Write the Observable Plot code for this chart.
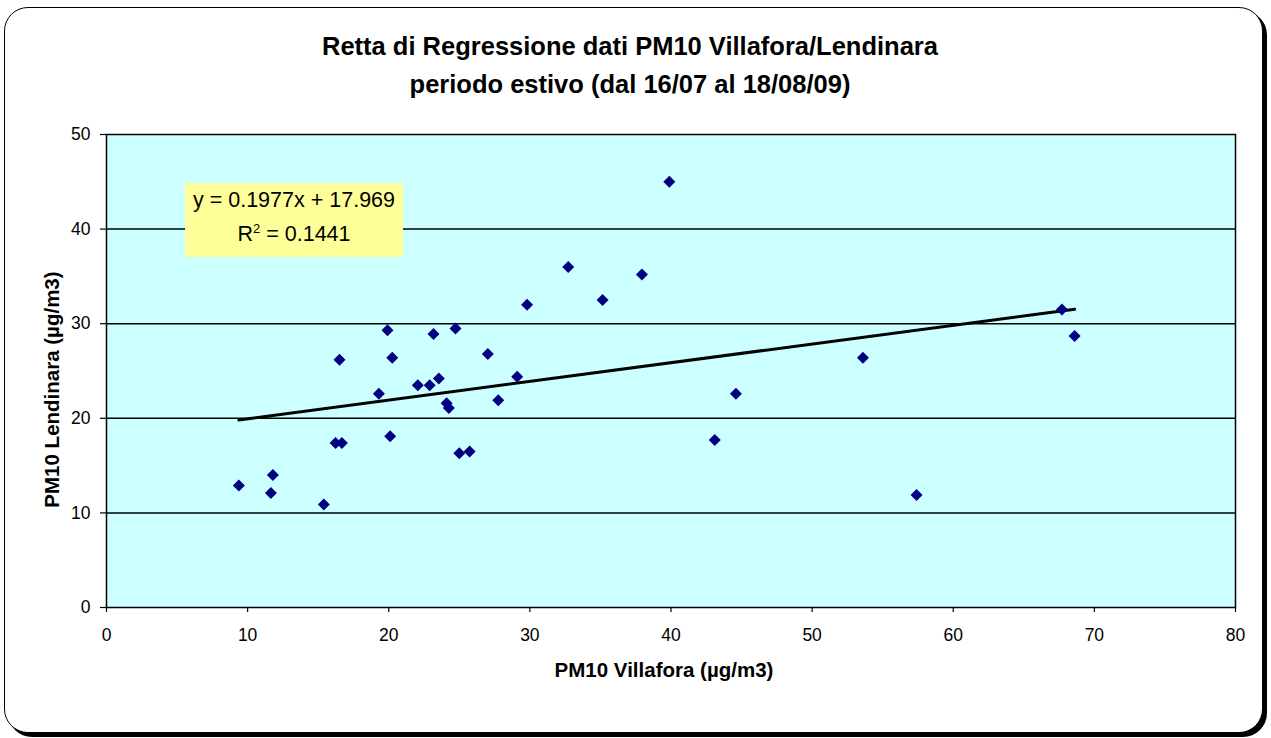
<!DOCTYPE html>
<html>
<head>
<meta charset="utf-8">
<script src="https://cdn.jsdelivr.net/npm/d3@7"></script>
<script src="https://cdn.jsdelivr.net/npm/@observablehq/plot@0.6"></script>
<style>
  html, body { margin: 0; padding: 0; background: #fff; }
  #wrap { position: relative; width: 1271px; height: 738px; overflow: hidden; font-family: "Liberation Sans", Arial, sans-serif; color: #000; }
  #frame { position: absolute; left: 4px; top: 7px; width: 1257px; height: 724px; border: 1.5px solid #000; border-radius: 24px; box-shadow: 4px 4px 0 #000; background: #fff; }
  #chart { position: absolute; left: 0; top: 0; }
  #chart svg text { font-size: 17.5px !important; font-family: "Liberation Sans", Arial, sans-serif; fill: #000; }
  .title { position: absolute; left: 130px; width: 1000px; text-align: center; font-weight: bold; font-size: 25.5px; line-height: 28px; white-space: nowrap; }
  #xlabel { position: absolute; left: 364px; width: 600px; top: 658px; text-align: center; font-weight: bold; font-size: 20.5px; line-height: 23px; }
  #ylabel { position: absolute; left: -149px; top: 378px; width: 400px; height: 23px; line-height: 23px; text-align: center; font-weight: bold; font-size: 20.5px; transform: rotate(-90deg); white-space: nowrap; }
  #eq { position: absolute; left: 185px; top: 183px; width: 218px; height: 74px; background: #FFFF99; }
  #eq div { position: absolute; left: 0; width: 218px; text-align: center; font-size: 21.5px; line-height: 24px; white-space: nowrap; }
  sup { font-size: 13px; vertical-align: 8px; line-height: 0; }
</style>
</head>
<body>
<div id="wrap">
  <div id="frame"></div>
  <div id="chart"></div>
  <div class="title" id="t1" style="top:32px"></div>
  <div class="title" id="t2" style="top:70px"></div>
  <div id="xlabel"></div>
  <div id="ylabel"></div>
  <div id="eq"><div id="eq1" style="top:5px"></div><div id="eq2" style="top:39px"></div></div>
</div>
<script>
// ---- Data ----
const villafora = [9.38, 11.79, 11.65, 15.4, 16.51, 16.23, 16.68, 19.91, 20.25, 19.3, 20.1,
  22.06, 22.9, 23.55, 23.17, 24.73, 24.1, 24.26, 25.0, 25.73, 27.02, 27.76, 29.1, 29.8,
  39.88, 32.72, 37.94, 35.15, 44.6, 43.1, 53.6, 57.4, 67.7, 68.6];
const lendinara = [12.9, 14.0, 12.1, 10.9, 26.2, 17.4, 17.4, 29.3, 26.4, 22.6, 18.1,
  23.5, 23.5, 24.2, 28.9, 29.5, 21.6, 21.1, 16.3, 16.5, 26.8, 21.9, 24.4, 32.0,
  45.0, 36.0, 35.2, 32.5, 22.6, 17.7, 26.4, 11.9, 31.5, 28.7];
const slope = 0.1977;
const intercept = 17.969;
const rSquared = 0.1441;
const xTicks = [0, 10, 20, 30, 40, 50, 60, 70, 80];
const yTicks = [0, 10, 20, 30, 40, 50];
const gridValues = [10, 20, 30, 40];
const titleLines = ["Retta di Regressione dati PM10 Villafora/Lendinara", "periodo estivo (dal 16/07 al 18/08/09)"];
const xLabel = "PM10 Villafora (µg/m3)";
const yLabel = "PM10 Lendinara (µg/m3)";

// ---- Derived tables ----
const points = villafora.map((x, i) => ({x, y: lendinara[i]}));
const xExtent = d3.extent(villafora);
const trend = xExtent.map(x => ({x, y: slope * x + intercept}));

const chart = Plot.plot({
  width: 1271,
  height: 738,
  marginLeft: 106,
  marginRight: 36,
  marginTop: 134,
  marginBottom: 131,
  style: {background: "transparent", fontFamily: "'Liberation Sans', Arial, sans-serif", fontSize: "17.5px", color: "#000", overflow: "visible"},
  x: {domain: [0, 80]},
  y: {domain: [0, 50]},
  marks: [
    Plot.frame({fill: "#CCFFFF", stroke: null}),
    Plot.ruleY(gridValues, {stroke: "#000", strokeWidth: 1.5}),
    Plot.frame({stroke: "#000", strokeWidth: 1.5}),
    Plot.axisX({ticks: xTicks, tickSize: 5, tickPadding: 16, fontSize: 17.5, label: null, tickFormat: d => String(d), stroke: "#000", strokeWidth: 1.2}),
    Plot.axisY({ticks: yTicks, tickSize: 6, tickPadding: 10, fontSize: 17.5, label: null, tickFormat: d => String(d), stroke: "#000", strokeWidth: 1.2}),
    Plot.line(trend, {x: "x", y: "y", stroke: "#000", strokeWidth: 3}),
    Plot.dot(points, {x: "x", y: "y", symbol: "diamond2", r: 5.4, fill: "#000080", stroke: null})
  ]
});
document.getElementById("chart").appendChild(chart);

document.getElementById("t1").textContent = titleLines[0];
document.getElementById("t2").textContent = titleLines[1];
document.getElementById("xlabel").textContent = xLabel;
document.getElementById("ylabel").textContent = yLabel;
document.getElementById("eq1").textContent = `y = ${slope}x + ${intercept}`;
document.getElementById("eq2").innerHTML = `R<sup>2</sup> = ${rSquared}`;
</script>
</body>
</html>
